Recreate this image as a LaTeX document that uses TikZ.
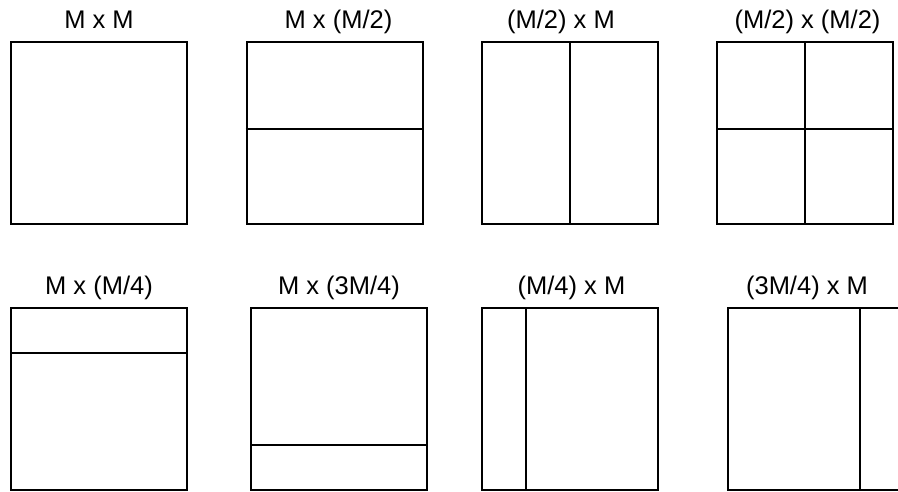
\documentclass[tikz,border=0pt]{standalone}
\usepackage{fontspec}
\setmainfont{Liberation Sans}
\usetikzlibrary{positioning, calc}

\begin{document}
\begin{tikzpicture}[
      x=1pt, y=-1pt,
      font=\fontsize{25.5}{30}\selectfont,
      blk/.style={draw, line width=2pt, inner sep=0pt,
                  minimum width=176pt, minimum height=182pt},
      cut/.style={line width=2pt},
      lbl/.style={anchor=base, inner sep=0pt} ]

    \useasboundingbox (0,0) rectangle (898,491);

    \node[blk] (mm)   at (99,133)    {};
    \node[blk] (mh)   at (334.5,133) {};
    \node[blk] (hm)   at (570,133)   {};
    \node[blk] (hh)   at (805,133)   {};

    \node[blk] (mq)   at (99,399)    {};
    \node[blk] (mtq)  at (339,399)   {};
    \node[blk] (qm)   at (570,399)   {};
    \node[blk] (tqm)  at (816,399)   {};

    \node[lbl] (lmm)  at ([yshift=13pt]mm.north)               {M x M};
    \node[lbl] (lmh)  at ([xshift=4pt, yshift=13pt]mh.north)   {M x (M/2)};
    \node[lbl] (lhm)  at ([xshift=-9pt, yshift=13pt]hm.north)  {(M/2) x M};
    \node[lbl] (lhh)  at ([xshift=2.5pt, yshift=13pt]hh.north) {(M/2) x (M/2)};
    \node[lbl] (lmq)  at ([yshift=12.5pt]mq.north)             {M x (M/4)};
    \node[lbl] (lmtq) at ([yshift=12.5pt]mtq.north)            {M x (3M/4)};
    \node[lbl] (lqm)  at ([xshift=1.5pt, yshift=12.5pt]qm.north) {(M/4) x M};
    \node[lbl] (ltqm) at ([xshift=-9pt, yshift=12.5pt]tqm.north) {(3M/4) x M};

    \draw[cut] ($(mh.north west)!0.48!(mh.south west)$) -- ($(mh.north east)!0.48!(mh.south east)$);
    \draw[cut] (hm.north) -- (hm.south);
    \draw[cut] (hh.north) -- (hh.south);
    \draw[cut] ($(hh.north west)!0.48!(hh.south west)$) -- ($(hh.north east)!0.48!(hh.south east)$);

    \draw[cut] ($(mq.north west)!0.25!(mq.south west)$) -- ($(mq.north east)!0.25!(mq.south east)$);
    \draw[cut] ($(mtq.north west)!0.75!(mtq.south west)$) -- ($(mtq.north east)!0.75!(mtq.south east)$);
    \draw[cut] ($(qm.north west)!0.25!(qm.north east)$) -- ($(qm.south west)!0.25!(qm.south east)$);
    \draw[cut] ($(tqm.north west)!0.745!(tqm.north east)$) -- ($(tqm.south west)!0.745!(tqm.south east)$);
  \end{tikzpicture}
\end{document}
